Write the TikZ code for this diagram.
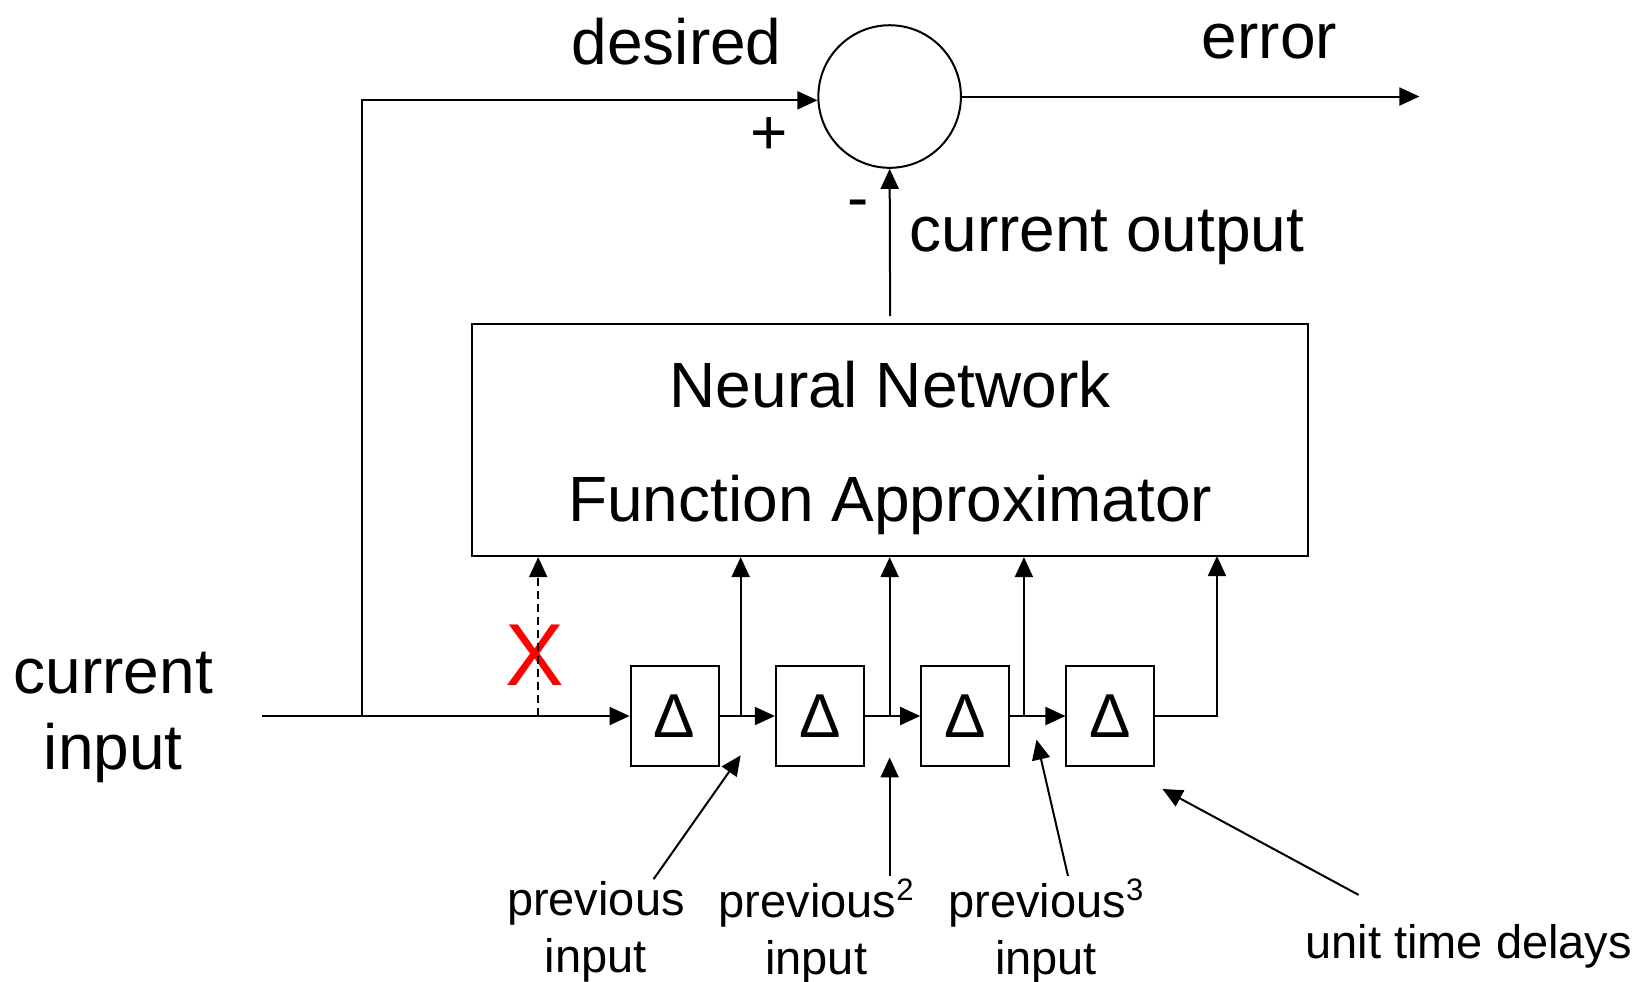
\documentclass[tikz,border=0pt]{standalone}
\usepackage{fontspec}
\setmainfont{Liberation Sans}
\usetikzlibrary{arrows.meta,calc}
\newcommand{\supsz}[1]{\raisebox{0.36em}{\fontsize{15.5}{16}\selectfont #1}}
\begin{document}
\begin{tikzpicture}[x=0.5246pt,y=-0.5246pt, line width=1pt,
 arr/.style={-{Triangle[length=10pt,width=9pt]}},
 big/.style={font=\fontsize{32}{38}\selectfont, inner sep=0pt},
 small/.style={font=\fontsize{23.5}{28.3}\selectfont, align=center, inner sep=0pt},
 dbox/.style={draw, minimum width=44pt, minimum height=50pt, inner sep=0pt, font=\fontsize{31}{36}\selectfont},
]
\useasboundingbox (0,0) rectangle (1568,936);

% main blocks
\node[draw, circle, minimum size=71.3pt, inner sep=0pt] (sum) at (848,92) {};
\node[draw, minimum width=418pt, minimum height=116pt] (nn) at (848.5,419.5) {};
\node[big, align=center, font=\fontsize{32}{57}\selectfont] (nntext) at (848.5,427) {Neural Network\\Function Approximator};

\node[dbox] (d1) at (643,682.5) {Δ};
\node[dbox] (d2) at (781.5,682.5) {Δ};
\node[dbox] (d3) at (920,682.5) {Δ};
\node[dbox] (d4) at (1058.5,682.5) {Δ};

% labels
\node[big] (desired) at (645,40) {desired};
\node[big] (error) at (1210,40) {error};
\node[big] (plus) at (733,130) {+};
\node[big] (minus) at (818,200) {-};
\node[big, anchor=west] (cout) at (866,226) {current output};
\node[big, align=center, font=\fontsize{32}{37.8}\selectfont] (cin) at (108,684) {current\\input};
\node[inner sep=0pt, text=red, font=\fontsize{44}{52}\selectfont] (x) at (510,625) {X};
\node[small] (l1) at (568,888) {previous\\input};
\node[small] (l2) at (778,888) {previous\supsz{2}\\input};
\node[small] (l3) at (997,888) {previous\supsz{3}\\input};
\node[small] (l4) at (1400,902) {unit time delays};

% coordinates
\coordinate (inL) at (250,682.5);
\coordinate (j1) at (345,682.5);
\coordinate (j2) at (513,682.5);
\coordinate (t1) at (706,682.5);
\coordinate (t2) at (848,682.5);
\coordinate (t3) at (976,682.5);
\coordinate (t4) at (1160,530);
\coordinate (errEnd) at (1353,92);
\coordinate (p1s) at (623,838);
\coordinate (p1e) at (706,720);
\coordinate (p2s) at (848,835);
\coordinate (p2e) at (848,722);
\coordinate (p3s) at (1018,835);
\coordinate (p3e) at (988,705);
\coordinate (p4s) at (1295,853);
\coordinate (p4e) at (1108,752);

% connectors
\draw[arr] (inL) -- (d1.west);
\draw[arr] (j1) |- (sum.183);
\draw[arr] (sum.east) -- (errEnd);
\draw[arr, shorten <=3.5pt] (nn.north) -- (sum.south);
\draw[arr, dash pattern=on 4pt off 2.5pt] (j2) -- (j2 |- nn.south);
\draw[arr] (d1.east) -- (d2.west);
\draw[arr] (d2.east) -- (d3.west);
\draw[arr] (d3.east) -- (d4.west);
\draw[arr] (t1) -- (t1 |- nn.south);
\draw[arr] (t2) -- (t2 |- nn.south);
\draw[arr] (t3) -- (t3 |- nn.south);
\draw[arr] (d4.east) -| (t4);
\draw[arr] (p1s) -- (p1e);
\draw[arr] (p2s) -- (p2e);
\draw[arr] (p3s) -- (p3e);
\draw[arr] (p4s) -- (p4e);
\end{tikzpicture}
\end{document}
